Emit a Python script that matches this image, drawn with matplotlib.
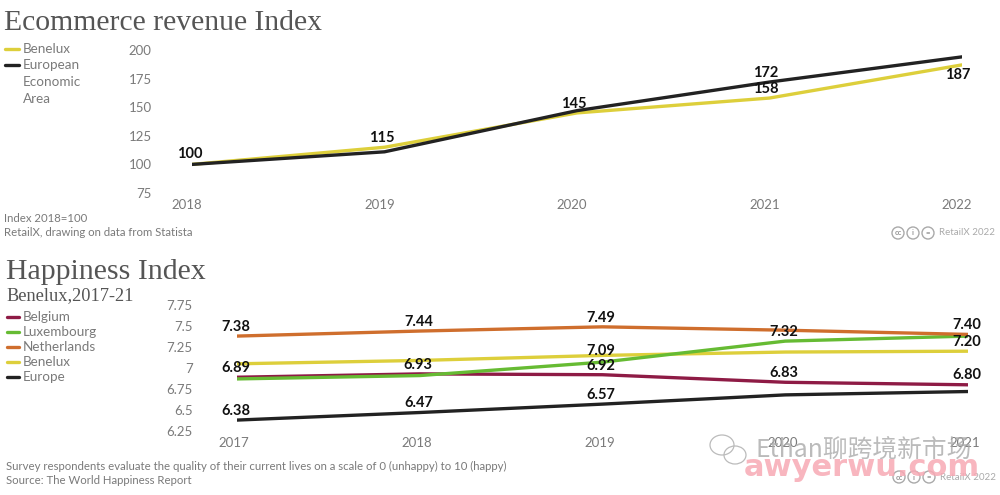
import matplotlib
matplotlib.use('Agg')
import matplotlib.pyplot as plt
from matplotlib.lines import Line2D
from matplotlib.patches import Ellipse
from matplotlib.transforms import ScaledTranslation

# ecommerce revenue index
ecom_years = [2018, 2019, 2020, 2021, 2022]
ecom_benelux = [100, 115, 145, 158, 187]
ecom_eea = [100, 111, 147, 172, 194]
ecom_ticks = [75, 100, 125, 150, 175, 200]
ecom_labels = [100, 115, 145, 172, 158, 187]
ecom_label_years = [2018, 2019, 2020, 2021, 2021, 2022]

# happiness index
happy_years = [2017, 2018, 2019, 2020, 2021]
happy_belgium = [6.89, 6.93, 6.92, 6.83, 6.80]
happy_luxembourg = [6.87, 6.91, 7.07, 7.32, 7.38]
happy_netherlands = [7.38, 7.44, 7.49, 7.45, 7.40]
happy_benelux = [7.05, 7.09, 7.15, 7.19, 7.20]
happy_europe = [6.38, 6.47, 6.57, 6.68, 6.72]
happy_ticks = [6.25, 6.5, 6.75, 7, 7.25, 7.5, 7.75]
happy_tick_labels = ['6.25', '6.5', '6.75', '7', '7.25', '7.5', '7.75']
happy_labels = ['7.38', '7.44', '7.49', '7.32', '7.40', '7.09', '7.20', '6.89',
                '6.93', '6.92', '6.83', '6.80', '6.38', '6.47', '6.57']
happy_label_years = [2017, 2018, 2019, 2020, 2021, 2019, 2021, 2017,
                     2018, 2019, 2020, 2021, 2017, 2018, 2019]

YELLOW = '#DDCF3B'
BLACK = '#222222'
MAROON = '#8E1B45'
GREEN = '#66BB33'
ORANGE = '#CF6E2D'
GREY = '#7A7A7A'
TITLE = '#555555'
W, H = 1000, 495

plt.rcParams['font.family'] = ['Lato', 'DejaVu Sans']
fig = plt.figure(figsize=(10, 4.95), dpi=100)


def px_axes(left, right, top, bottom):
    return fig.add_axes([left / W, 1 - bottom / H, (right - left) / W, (bottom - top) / H])


def ftext(x, y, s, **kw):
    kw.setdefault('va', 'center')
    kw.setdefault('color', GREY)
    fig.text(x / W, 1 - y / H, s, **kw)


def legend_key(x0, y, color):
    fig.add_artist(Line2D([x0 / W, 19 / W], [1 - y / H, 1 - y / H], color=color, lw=2.4,
                          solid_capstyle='round', transform=fig.transFigure))


def cc_icons(x0, y):
    for i, s in enumerate(['cc', 'i', '=']):
        cx = x0 + i * 15
        fig.add_artist(Ellipse((cx / W, 1 - y / H), 12 / W, 12 / H, fill=False, ec='#AAAAAA',
                               lw=1, transform=fig.transFigure))
        ftext(cx, y, s, fontsize=5.5, color='#999999', ha='center', fontweight='bold')
    ftext(x0 + 41, y, 'RetailX 2022', fontsize=7, color='#AAAAAA')


def style(ax, xs, xlim, ylim, ypad, xpad, shift):
    ax.set_xlim(*xlim)
    ax.set_ylim(*ylim)
    ax.set_xticks(xs)
    ax.set_xticklabels([str(v) for v in xs])
    ax.patch.set_alpha(0)
    for s in ax.spines.values():
        s.set_visible(False)
    ax.tick_params(length=0, labelsize=9.5, labelcolor=GREY)
    ax.tick_params(axis='y', pad=ypad)
    ax.tick_params(axis='x', pad=xpad)
    off = ScaledTranslation(shift / 100, 0, fig.dpi_scale_trans)
    for t in ax.get_xticklabels():
        t.set_transform(t.get_transform() + off)


# top chart
ax1 = px_axes(192, 962, 50, 193)
ax1.plot(ecom_years, ecom_benelux, color=YELLOW, lw=2.4, solid_capstyle='round')
ax1.plot(ecom_years, ecom_eea, color=BLACK, lw=2.4, solid_capstyle='round')
ax1.set_yticks(ecom_ticks)
style(ax1, ecom_years, (2018, 2022), (75, 200), 29, 4, -5)

ecom_y_px = [154, 138, 104, 73, 89, 75]
ecom_dx_px = [-2, -3, -3, -4, -4, -4]
for yr, lab, dx, py in zip(ecom_label_years, ecom_labels, ecom_dx_px, ecom_y_px):
    ax1.annotate(str(lab), xy=(yr, 75), xycoords='data', xytext=(dx * 0.72, (193 - py) * 0.72),
                 textcoords='offset points', ha='center', va='center', fontsize=10.5,
                 fontweight='bold', color='#111111', annotation_clip=False)

ftext(4, 23, 'Ecommerce revenue Index', fontsize=21.3, color=TITLE, family='Liberation Serif')
legend_key(5, 49, YELLOW)
legend_key(5, 65, BLACK)
ftext(23, 49, 'Benelux', fontsize=9.7)
ftext(23, 65, 'European', fontsize=9.7)
ftext(23, 82, 'Economic', fontsize=9.7)
ftext(23, 99, 'Area', fontsize=9.7)
ftext(4, 218, 'Index 2018=100', fontsize=8.2)
ftext(4, 232, 'RetailX, drawing on data from Statista', fontsize=8.2)
cc_icons(898, 233)

# bottom chart
ax2 = px_axes(237, 968, 305, 431)
series = [(happy_benelux, YELLOW), (happy_belgium, MAROON), (happy_luxembourg, GREEN),
          (happy_netherlands, ORANGE), (happy_europe, BLACK)]
for vals, col in series:
    ax2.plot(happy_years, vals, color=col, lw=2.4, solid_capstyle='round')
ax2.set_yticks(happy_ticks)
ax2.set_yticklabels(happy_tick_labels)
style(ax2, happy_years, (2017, 2021), (6.25, 7.75), 32, 4, -3)

happy_y_px = [327, 322, 318, 332, 325, 351, 342, 368, 365, 366, 373, 375, 411, 403, 395]
for yr, lab, py in zip(happy_label_years, happy_labels, happy_y_px):
    ax2.annotate(lab, xy=(yr, 6.25), xycoords='data', xytext=(-1, (431 - py) * 0.72),
                 textcoords='offset points', ha='center', va='center', fontsize=10.5,
                 fontweight='bold', color='#111111', annotation_clip=False)

ftext(6, 272, 'Happiness Index', fontsize=21.5, color=TITLE, family='Liberation Serif')
ftext(6, 296, 'Benelux,2017-21', fontsize=13.2, color=TITLE, family='Liberation Serif')
names = ['Belgium', 'Luxembourg', 'Netherlands', 'Benelux', 'Europe']
cols = [MAROON, GREEN, ORANGE, YELLOW, BLACK]
for i, (n, c) in enumerate(zip(names, cols)):
    y = 317 + i * 15
    legend_key(7, y, c)
    ftext(23, y, n, fontsize=9.7)
ftext(6, 466, 'Survey respondents evaluate the quality of their current lives on a scale of 0 (unhappy) to 10 (happy)', fontsize=8.2)
ftext(6, 480, 'Source: The World Happiness Report', fontsize=8.2)
cc_icons(899, 477)

# watermark
for (cx, cy, w, h) in [(722, 445, 24, 20), (735, 455, 22, 18)]:
    fig.add_artist(Ellipse((cx / W, 1 - cy / H), w / W, h / H, fill=False, ec='#BBBBBB', lw=0.9,
                           transform=fig.transFigure))
ftext(755, 451, 'Ethan聊跨境新市场', fontsize=17.8, color='#AAAAAA', alpha=0.8,
      family=['Noto Sans CJK SC', 'DejaVu Sans'])
ftext(744, 468, 'awyerwu.com', fontsize=22, color='#F7A9B4', alpha=0.85, fontweight='bold',
      family='DejaVu Sans')

fig.savefig('out.png', dpi=100)
